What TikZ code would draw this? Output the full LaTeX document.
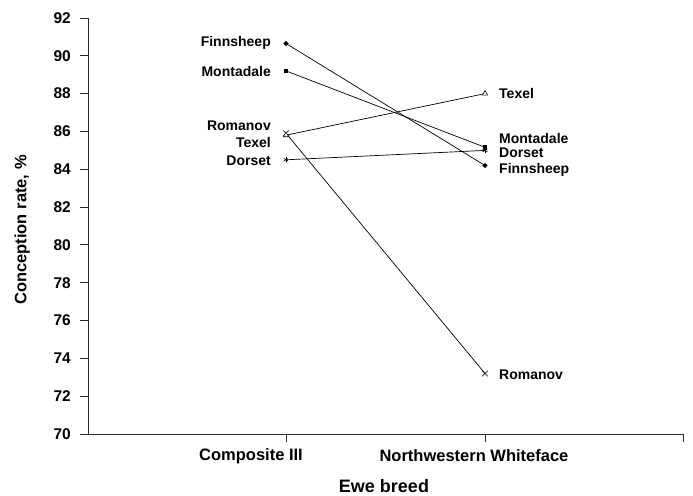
\documentclass[tikz,border=0pt]{standalone}
\usepackage{fontspec}
\setmainfont{Liberation Sans}
\usetikzlibrary{shapes.geometric,shapes.misc}
\begin{document}
\begin{tikzpicture}[x=1pt,y=-1pt,
  axisline/.style={line width=1pt,black!85},
  dataline/.style={line width=0.7pt,black},
  ticklab/.style={font=\fontsize{15.5}{15.5}\selectfont\bfseries,anchor=east,inner sep=0},
  catlab/.style={font=\fontsize{16.5}{16.5}\selectfont\bfseries,inner sep=0},
  axtitle/.style={font=\fontsize{18}{18}\selectfont\bfseries,inner sep=0},
  ytitle/.style={font=\fontsize{16.5}{16.5}\selectfont\bfseries,inner sep=0},
  lleft/.style={font=\fontsize{14}{14}\selectfont\bfseries,anchor=east,inner sep=0},
  lright/.style={font=\fontsize{14}{14}\selectfont\bfseries,anchor=west,inner sep=0},
  mdiamond/.style={diamond,fill=black,inner sep=0,minimum size=5.5pt},
  msquare/.style={rectangle,fill=black,inner sep=0,minimum size=4.5pt},
  mtri/.style={regular polygon,regular polygon sides=3,draw=black,fill=white,line width=0.6pt,inner sep=0,minimum size=6pt},
  mcross/.style={cross out,draw=black,line width=0.6pt,inner sep=0,minimum size=5pt},
  mstar/.style={circle,inner sep=0,minimum size=6pt,path picture={
     \draw[black,line width=0.6pt] (path picture bounding box.north) -- (path picture bounding box.south);
     \draw[black,line width=0.6pt] ([xshift=-2.6pt,yshift=-1.5pt]path picture bounding box.center) -- ([xshift=2.6pt,yshift=1.5pt]path picture bounding box.center);
     \draw[black,line width=0.6pt] ([xshift=-2.6pt,yshift=1.5pt]path picture bounding box.center) -- ([xshift=2.6pt,yshift=-1.5pt]path picture bounding box.center);}},
]
\useasboundingbox (0,0) rectangle (693,495);
% axes
\coordinate (o) at (88,434);
\coordinate (ytop) at (88,18);
\coordinate (xend) at (683,434);
\draw[axisline] (ytop) -- (o) -- (xend);
% y ticks
\foreach \v in {70,72,...,92}{
  \pgfmathsetmacro{\py}{434-(\v-70)*18.909}
  \draw[axisline] (80,\py) -- (88,\py);
  \node[ticklab] (t\v) at (71,\py) {\v};
}
% x ticks
\foreach \px in {286,485,683}{
  \draw[axisline] (\px,434) -- (\px,442);
}
\node[catlab] (c1) at (251,456) {Composite III};
\node[catlab] (c2) at (474,456) {Northwestern Whiteface};
\node[axtitle,anchor=base] (xt) at (384,492) {Ewe breed};
\node[ytitle,rotate=90] (yt) at (22,230) {Conception rate, \%};
% data points
\coordinate (fc) at (286,43.5);
\coordinate (mc) at (286,70.9);
\coordinate (rc) at (286,133.3);
\coordinate (tc) at (286,135.2);
\coordinate (dc) at (286,159.8);
\coordinate (fn) at (485,165.5);
\coordinate (mn) at (485,147.3);
\coordinate (rn) at (485,373.5);
\coordinate (tn) at (485,93.6);
\coordinate (dn) at (485,150.4);
\draw[dataline] (fc) -- (fn);
\draw[dataline] (mc) -- (mn);
\draw[dataline] (rc) -- (rn);
\draw[dataline] (tc) -- (tn);
\draw[dataline] (dc) -- (dn);
\node[mdiamond] (Fc) at (fc) {};
\node[mdiamond] (Fn) at (fn) {};
\node[msquare] (Mc) at (mc) {};
\node[msquare] (Mn) at (mn) {};
\node[mcross] (Rc) at (rc) {};
\node[mcross] (Rn) at (rn) {};
\node[mtri] (Tc) at (tc) {};
\node[mtri] (Tn) at (tn) {};
\node[mstar] (Dc) at (dc) {};
\node[mstar] (Dn) at (dn) {};
% labels
\node[lleft] (lf) at (271,43) {Finnsheep};
\node[lleft] (lm) at (271,71) {Montadale};
\node[lleft] (lr) at (271,126) {Romanov};
\node[lleft] (lt) at (271,142) {Texel};
\node[lleft] (ld) at (271,161) {Dorset};
\node[lright] (rt) at (499,93) {Texel};
\node[lright] (rm) at (499,138) {Montadale};
\node[lright] (rd) at (499,153) {Dorset};
\node[lright] (rf) at (499,170) {Finnsheep};
\node[lright] (rr) at (499,375) {Romanov};
\end{tikzpicture}
\end{document}
